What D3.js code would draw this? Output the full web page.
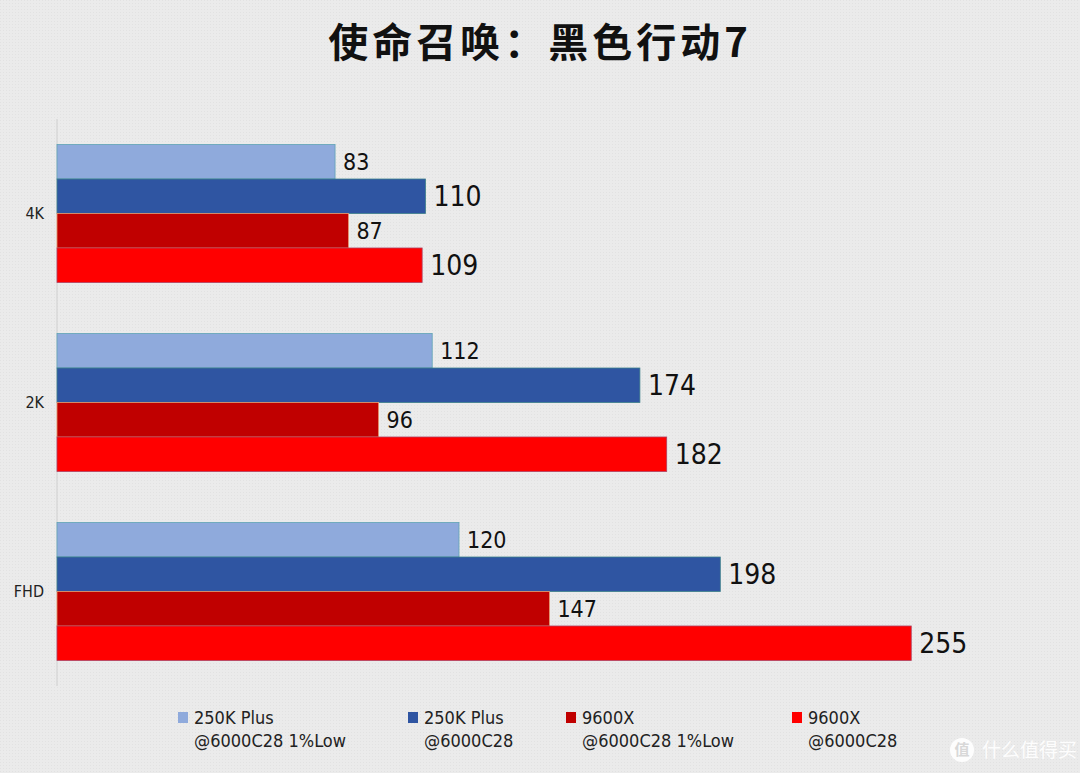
<!DOCTYPE html>
<html>
<head>
<meta charset="utf-8">
<script src="https://cdn.jsdelivr.net/npm/d3@7"></script>
<style>
  body { margin: 0; background: #ebebeb; }
  svg { display: block; }
  .cond { font-family: "Liberation Sans Narrow", "DejaVu Sans Condensed", "Roboto", sans-serif; }
</style>
</head>
<body>
<svg width="1080" height="773"></svg>
<script>
// chart data
const categories = ['4K', '2K', 'FHD'];
const seriesNames = [
  ['250K Plus', '@6000C28 1%Low'],
  ['250K Plus', '@6000C28'],
  ['9600X', '@6000C28 1%Low'],
  ['9600X', '@6000C28']
];
const seriesColors = ['#8faadc', '#2f55a2', '#c00000', '#ff0000'];
const seriesStrokes = ['#5fa3b5', '#3c7f8a', '#e89a70', '#b04060'];
const ultraLow = [83, 112, 120];   // 250K Plus 1%Low
const ultraAvg = [110, 174, 198];  // 250K Plus
const amdLow = [87, 96, 147];      // 9600X 1%Low
const amdAvg = [109, 182, 255];    // 9600X
const seriesValues = [ultraLow, ultraAvg, amdLow, amdAvg];

const svg = d3.select('svg');
const width = 1080;
const height = 773;

// background with faint dot texture
const defs = svg.append('defs');
const pat = defs.append('pattern')
    .attr('id', 'dots').attr('width', 3).attr('height', 3)
    .attr('patternUnits', 'userSpaceOnUse');
pat.append('rect').attr('width', 3).attr('height', 3).attr('fill', '#ebebeb');
pat.append('rect').attr('width', 1).attr('height', 1).attr('fill', '#e2e2e2');
svg.append('rect').attr('width', width).attr('height', height).attr('fill', 'url(#dots)');

// title
svg.append('text')
    .attr('x', 540).attr('y', 57)
    .attr('text-anchor', 'middle')
    .style('font-family', '"Noto Sans CJK SC", sans-serif')
    .style('font-weight', 700)
    .style('font-size', '40px')
    .style('letter-spacing', '4px')
    .attr('fill', '#111')
    .text('使命召唤：黑色行动7');

// scales
const x = d3.scaleLinear().domain([0, 300]).range([57, 57 + 3.35 * 300]);
const y = d3.scaleBand().domain(categories).range([119, 686])
    .paddingInner(0.27).paddingOuter(0.135);
const ySub = d3.scaleBand().domain(d3.range(4)).range([0, y.bandwidth()]);

// vertical axis line
svg.append('line')
    .attr('x1', x(0)).attr('x2', x(0))
    .attr('y1', 119).attr('y2', 686)
    .attr('stroke', '#cfcfcf').attr('stroke-width', 1);

// category labels
svg.selectAll('text.cat')
    .data(categories)
    .enter().append('text')
    .attr('class', 'cat cond')
    .attr('x', 44)
    .attr('y', d => y(d) + y.bandwidth() / 2)
    .attr('dy', '0.35em')
    .attr('text-anchor', 'end')
    .style('font-size', '16px')
    .attr('fill', '#222')
    .text(d => d);

// bars
const groups = svg.selectAll('g.series')
    .data(seriesValues)
    .enter().append('g')
    .attr('class', 'series');

groups.each(function (vals, si) {
    const g = d3.select(this);
    g.selectAll('rect')
        .data(vals)
        .enter().append('rect')
        .attr('x', x(0))
        .attr('y', (d, i) => y(categories[i]) + ySub(si))
        .attr('width', d => x(d) - x(0))
        .attr('height', ySub.bandwidth())
        .attr('fill', seriesColors[si])
        .attr('stroke', seriesStrokes[si])
        .attr('stroke-width', 0.8);

    g.selectAll('text')
        .data(vals)
        .enter().append('text')
        .attr('class', 'cond')
        .attr('x', d => x(d) + 8)
        .attr('y', (d, i) => y(categories[i]) + ySub(si) + ySub.bandwidth() / 2)
        .attr('dy', '0.36em')
        .style('font-size', si % 2 === 0 ? '23px' : '28px')
        .attr('fill', '#111')
        .text(d => d);
});

// legend
const legendX = [178, 408, 566, 792];
const legend = svg.selectAll('g.legend')
    .data(seriesNames)
    .enter().append('g')
    .attr('class', 'legend')
    .attr('transform', (d, i) => `translate(${legendX[i]},712)`);

legend.append('rect')
    .attr('width', 10).attr('height', 11)
    .attr('fill', (d, i) => seriesColors[i]);

legend.append('text')
    .attr('class', 'cond')
    .attr('x', 16).attr('y', 12)
    .style('font-size', '18px')
    .attr('fill', '#222')
    .text(d => d[0]);

legend.append('text')
    .attr('class', 'cond')
    .attr('x', 16).attr('y', 35)
    .style('font-size', '18px')
    .attr('fill', '#222')
    .text(d => d[1]);

// watermark
const wm = svg.append('g').attr('transform', 'translate(962,750)');
wm.append('circle').attr('r', 12).attr('fill', '#ffffff').attr('opacity', 0.9);
wm.append('text')
    .attr('text-anchor', 'middle').attr('dy', '0.36em')
    .style('font-family', '"Noto Sans CJK SC", sans-serif')
    .style('font-size', '15px').style('font-weight', 700)
    .attr('fill', '#d8d8d8')
    .text('值');
wm.append('text')
    .attr('x', 20).attr('dy', '0.36em')
    .style('font-family', '"Noto Sans CJK SC", sans-serif')
    .style('font-size', '19px')
    .attr('fill', '#ffffff')
    .attr('opacity', 0.9)
    .text('什么值得买');
</script>
</body>
</html>
